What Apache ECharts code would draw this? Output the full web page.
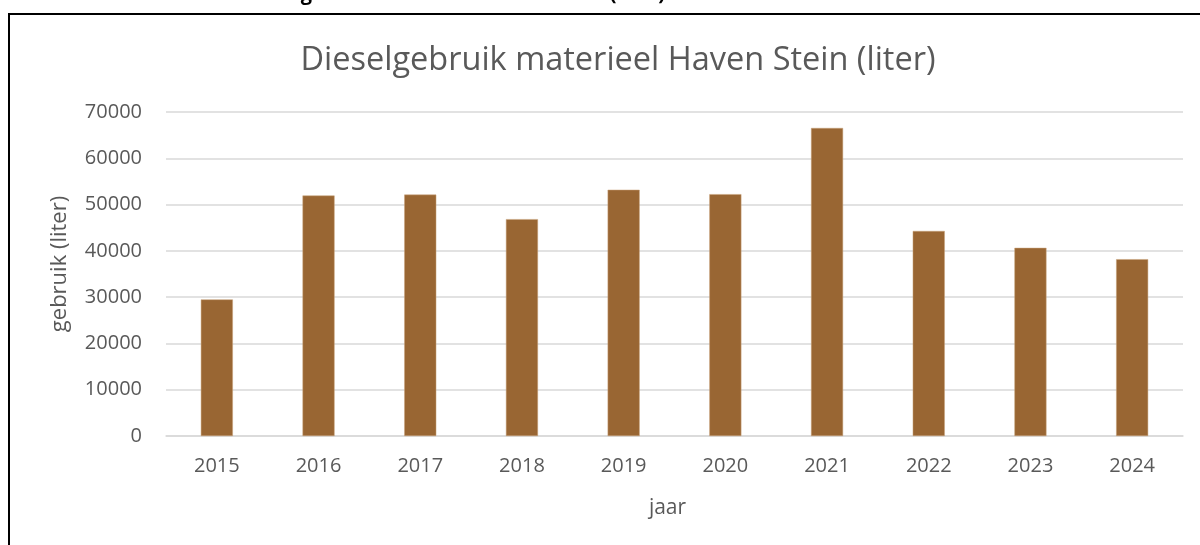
<!DOCTYPE html>
<html>
<head>
<meta charset="utf-8">
<script src="https://cdn.jsdelivr.net/npm/echarts@6/dist/echarts.min.js"></script>
<style>
  html, body { margin: 0; padding: 0; background: #fff; }
  #main { width: 1200px; height: 545px; }
</style>
</head>
<body>
<div id="main"></div>
<script>
// jaren en dieselgebruik (liter)
var jaren = ["2015", "2016", "2017", "2018", "2019", "2020", "2021", "2022", "2023", "2024"];
var gebruik = [29500, 51950, 52150, 46850, 53200, 52250, 66550, 44300, 40650, 38200];

var myChart = echarts.init(document.getElementById("main"));

var option = {
  backgroundColor: "#fff",
  animation: false,
  textStyle: { fontFamily: "Open Sans" },
  title: {
    text: "Dieselgebruik materieel Haven Stein (liter)",
    left: 613,
    textAlign: "center",
    top: 39,
    textStyle: { color: "#595959", fontSize: 32.5, fontWeight: "normal", fontFamily: "Open Sans" }
  },
  graphic: [
    {
      // kader van het diagram (loopt buiten beeld door)
      type: "rect",
      shape: { x: 9, y: 14, width: 1400, height: 800 },
      style: { fill: null, stroke: "#000", lineWidth: 2 }
    },
    {
      // bijschrift boven het kader, grotendeels afgesneden
      type: "text",
      right: 535,
      top: -16,
      style: {
        text: "Grafiek 11: Dieselgebruik materieel Haven Stein (liter)",
        font: "bold 20px 'Open Sans'",
        fill: "#000"
      }
    }
  ],
  grid: {
    left: 166,
    right: 17,
    top: 112,
    bottom: 109
  },
  xAxis: {
    type: "category",
    data: jaren,
    name: "jaar",
    nameLocation: "middle",
    nameGap: 62,
    nameTextStyle: { color: "#595959", fontSize: 21, padding: [0, 14, 0, 0] },
    axisLine: { lineStyle: { color: "#d9d9d9", width: 1.5 } },
    axisTick: { show: false },
    axisLabel: { color: "#595959", fontSize: 20, margin: 20 }
  },
  yAxis: {
    type: "value",
    min: 0,
    max: 70000,
    interval: 10000,
    name: "gebruik (liter)",
    nameLocation: "middle",
    nameGap: 95,
    nameTextStyle: { color: "#595959", fontSize: 22, padding: [0, 0, 0, 20] },
    axisLine: { show: false },
    axisTick: { show: false },
    axisLabel: {
      color: "#595959",
      fontSize: 20,
      margin: 24,
      formatter: function (v) { return String(v); }
    },
    splitLine: { lineStyle: { color: "#d9d9d9", width: 1.5 } }
  },
  series: [
    {
      name: "gebruik",
      type: "bar",
      data: gebruik,
      barWidth: "31.5%",
      itemStyle: { color: "#996633", borderColor: "#c8a27a", borderWidth: 0.5 }
    }
  ]
};

myChart.setOption(option);
</script>
</body>
</html>
